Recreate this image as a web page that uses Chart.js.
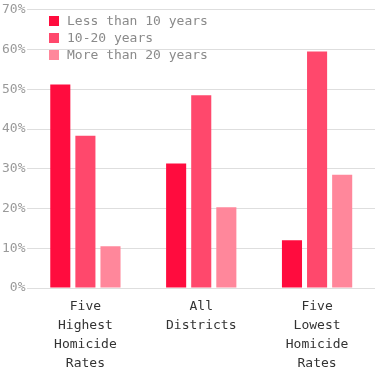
<!DOCTYPE html>
<html>
<head>
    <title>Homicide rates by years</title>
    <script src="https://cdn.jsdelivr.net/npm/chart.js"></script>
    <style>
        body { margin: 0; background: #fff; }
        .wrap { position: relative; width: 375px; height: 371px; }
        #legend {
            position: absolute; left: 49px; top: 12px;
            font: 13px "DejaVu Sans Mono", monospace; color: #8a8a8a;
        }
        #legend div { height: 17px; line-height: 17px; white-space: nowrap; }
        #legend span {
            display: inline-block; width: 10px; height: 10px;
            margin-right: 8px; vertical-align: -1px;
        }
    </style>
</head>
<body>
    <div class="wrap">
        <canvas id="chart" width="375" height="371"></canvas>
        <div id="legend"></div>
    </div>

    <script>
        // données
        const categories = [
            ['Five', 'Highest', 'Homicide', 'Rates'],
            ['All', 'Districts'],
            ['Five', 'Lowest', 'Homicide', 'Rates']
        ];
        const seriesNames = ['Less than 10 years', '10-20 years', 'More than 20 years'];
        const lessThan10 = [51.2, 31.3, 12.0];
        const between10and20 = [38.3, 48.5, 59.5];
        const moreThan20 = [10.5, 20.3, 28.5];
        const colors = ['#ff0c3e', '#ff486c', '#ff879b'];

        const values = [lessThan10, between10and20, moreThan20];

        const chart = new Chart(document.getElementById('chart'), {
            type: 'bar',
            data: {
                labels: categories,
                datasets: values.map((v, i) => ({
                    label: seriesNames[i],
                    data: v,
                    backgroundColor: colors[i],
                    borderWidth: 0,
                    categoryPercentage: 0.65,
                    barPercentage: 0.8
                }))
            },
            options: {
                responsive: false,
                animation: false,
                layout: { padding: { top: 2, right: 0, left: 0, bottom: 0 } },
                plugins: {
                    legend: { display: false },
                    tooltip: { enabled: false }
                },
                scales: {
                    x: {
                        grid: { display: false },
                        border: { display: false },
                        afterFit: s => { s.height = 83; },
                        ticks: {
                            color: '#333',
                            font: { family: 'DejaVu Sans Mono', size: 13, lineHeight: 1.46 },
                            padding: 1,
                            maxRotation: 0
                        }
                    },
                    y: {
                        min: 0,
                        max: 70,
                        border: { display: false },
                        grid: { color: '#dedede', drawTicks: false },
                        ticks: {
                            stepSize: 10,
                            color: '#9a9a9a',
                            padding: 2,
                            font: { family: 'DejaVu Sans Mono', size: 13 },
                            callback: v => v + '%'
                        }
                    }
                }
            }
        });

        // légende
        const legend = document.getElementById('legend');
        seriesNames.forEach((name, i) => {
            const row = document.createElement('div');
            const box = document.createElement('span');
            box.style.background = colors[i];
            row.appendChild(box);
            row.appendChild(document.createTextNode(name));
            legend.appendChild(row);
        });
    </script>
</body>
</html>
